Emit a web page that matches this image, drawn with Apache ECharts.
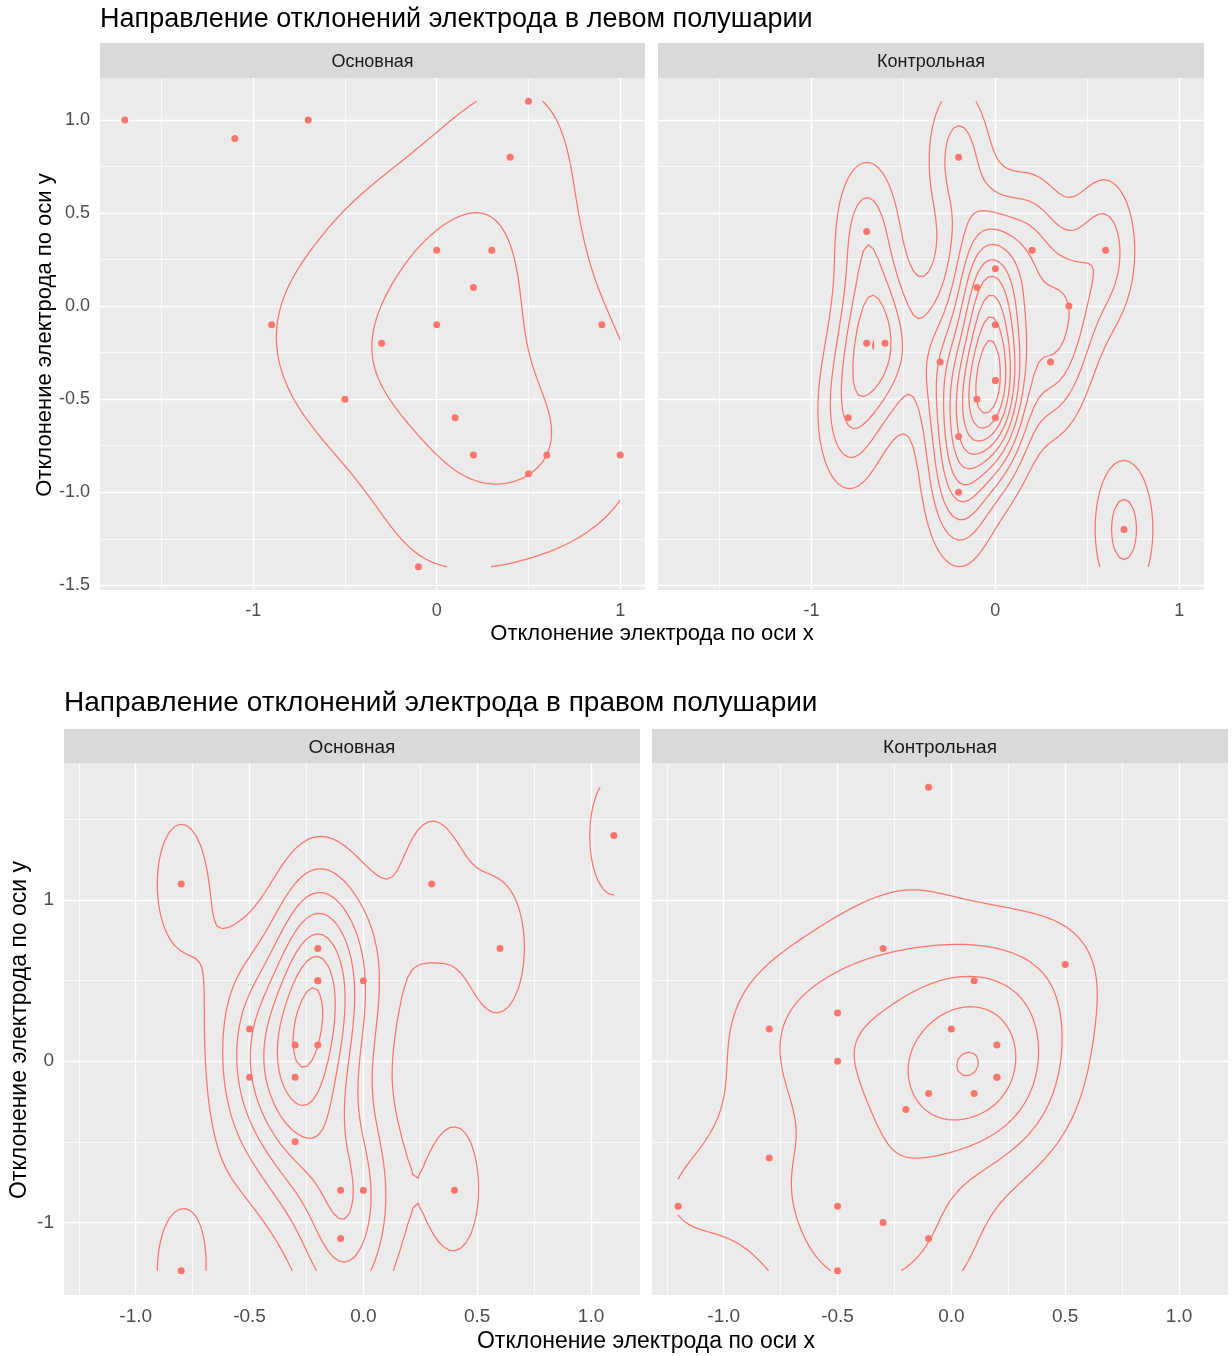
<!DOCTYPE html>
<html><head><meta charset="utf-8">
<script src="https://cdn.jsdelivr.net/npm/echarts@6/dist/echarts.min.js"></script>
<style>html,body{margin:0;padding:0;background:#fff}#c{width:1232px;height:1356px}</style>
</head><body><div id="c"></div>
<script>
// ---------------- DATA ----------------
const titleLeft = 'Направление отклонений электрода в левом полушарии';
const titleRight = 'Направление отклонений электрода в правом полушарии';
const facetNames = ['Основная', 'Контрольная'];
const xAxisTitle = 'Отклонение электрода по оси x';
const yAxisTitle = 'Отклонение электрода по оси y';

// Left hemisphere, group "Основная"
const lhMainX = [-1.7, -1.1, -0.7, 0.5, 0.4, 0.0, 0.3, 0.2, -0.9, 0.0, 0.9, -0.3, -0.5, 0.1, 0.2, 0.6, 1.0, 0.5, -0.1];
const lhMainY = [1.0, 0.9, 1.0, 1.1, 0.8, 0.3, 0.3, 0.1, -0.1, -0.1, -0.1, -0.2, -0.5, -0.6, -0.8, -0.8, -0.8, -0.9, -1.4];
// Left hemisphere, group "Контрольная" (point (0,-0.4) occurs twice)
const lhCtrlX = [-0.2, -0.7, 0.2, 0.6, 0.0, -0.1, 0.4, 0.0, -0.7, -0.6, -0.3, 0.3, 0.0, 0.0, -0.1, -0.8, 0.0, -0.2, -0.2, 0.7];
const lhCtrlY = [0.8, 0.4, 0.3, 0.3, 0.2, 0.1, 0.0, -0.1, -0.2, -0.2, -0.3, -0.3, -0.4, -0.4, -0.5, -0.6, -0.6, -0.7, -1.0, -1.2];
// Right hemisphere, group "Основная" (point (-0.2,0.5) occurs twice)
const rhMainX = [-0.8, 0.3, 1.1, 0.6, -0.2, -0.2, -0.2, 0.0, -0.5, -0.3, -0.2, -0.5, -0.3, -0.3, -0.1, 0.0, 0.4, -0.1, -0.8];
const rhMainY = [1.1, 1.1, 1.4, 0.7, 0.7, 0.5, 0.5, 0.5, 0.2, 0.1, 0.1, -0.1, -0.1, -0.5, -0.8, -0.8, -0.8, -1.1, -1.3];
// Right hemisphere, group "Контрольная" (point (0.2,-0.1) occurs twice)
const rhCtrlX = [-0.1, -0.3, 0.5, 0.1, -0.8, -0.5, -0.5, 0.0, 0.2, 0.2, 0.2, -0.1, 0.1, -0.2, -0.8, -1.2, -0.5, -0.3, -0.1, -0.5];
const rhCtrlY = [1.7, 0.7, 0.6, 0.5, 0.2, 0.3, 0.0, 0.2, 0.1, -0.1, -0.1, -0.2, -0.2, -0.3, -0.6, -0.9, -0.9, -1.0, -1.1, -1.3];

// Tick values / labels
const topXTicks = [-1, 0, 1];
const topXTickLabels = ['-1', '0', '1'];
const topXMinor = [-1.5, -0.5, 0.5];
const topYTicks = [-1.5, -1.0, -0.5, 0.0, 0.5, 1.0];
const topYTickLabels = ['-1.5', '-1.0', '-0.5', '0.0', '0.5', '1.0'];
const topYMinor = [-1.25, -0.75, -0.25, 0.25, 0.75];
const botXTicks = [-1.0, -0.5, 0.0, 0.5, 1.0];
const botXTickLabels = ['-1.0', '-0.5', '0.0', '0.5', '1.0'];
const botXMinor = [-1.25, -0.75, -0.25, 0.25, 0.75];
const botYTicks = [-1, 0, 1];
const botYTickLabels = ['-1', '0', '1'];
const botYMinor = [-0.5, 0.5, 1.5];

// ---------------- STYLE ----------------
const FONT = '"Liberation Sans", Arial, sans-serif';
const COL = '#F8766D';
const PANEL_BG = '#EBEBEB';
const STRIP_BG = '#D9D9D9';

// ---------------- STATS (MASS::kde2d + pretty, as ggplot2 geom_density_2d) ----------------
function quantile7(s, p) { const n = s.length, h = (n - 1) * p, lo = Math.floor(h), hi = Math.min(lo + 1, n - 1); return s[lo] + (h - lo) * (s[hi] - s[lo]); }
function bwNrd(x) {
  const s = [...x].sort((a, b) => a - b);
  const h = (quantile7(s, 0.75) - quantile7(s, 0.25)) / 1.34;
  const n = x.length, m = x.reduce((a, b) => a + b, 0) / n;
  const v = x.reduce((a, b) => a + (b - m) * (b - m), 0) / (n - 1);
  return 4 * 1.06 * Math.min(Math.sqrt(v), h) * Math.pow(n, -0.2);
}
function dnorm(u) { return Math.exp(-u * u / 2) / Math.sqrt(2 * Math.PI); }
function kde2d(x, y, lims, n) {
  const hx = bwNrd(x) / 4, hy = bwNrd(y) / 4;
  const gx = [], gy = [];
  for (let i = 0; i < n; i++) { gx.push(lims[0] + (lims[1] - lims[0]) * i / (n - 1)); gy.push(lims[2] + (lims[3] - lims[2]) * i / (n - 1)); }
  const nx = x.length;
  const ax = gx.map(g => x.map(v => dnorm((g - v) / hx)));
  const ay = gy.map(g => y.map(v => dnorm((g - v) / hy)));
  const z = [];
  for (let i = 0; i < n; i++) {
    const row = [];
    for (let j = 0; j < n; j++) {
      let s = 0; for (let k = 0; k < nx; k++) s += ax[i][k] * ay[j][k];
      row.push(s / (nx * hx * hy));
    }
    z.push(row);
  }
  return { gx, gy, z };
}
function rPretty(lo, up, ndiv) {
  const h = 1.5, h5 = 0.5 + 1.5 * h;
  const cell = (up - lo) / ndiv;
  const base = Math.pow(10, Math.floor(Math.log10(cell)));
  let unit = base, ns_;
  if ((ns_ = 2 * base) - cell < h * (cell - unit)) { unit = ns_;
    if ((ns_ = 5 * base) - cell < h5 * (cell - unit)) { unit = ns_;
      if ((ns_ = 10 * base) - cell < h * (cell - unit)) unit = ns_; } }
  const eps = 1e-10;
  let ns = Math.floor(lo / unit + eps), nu = Math.ceil(up / unit - eps);
  while (ns * unit > lo + eps * unit) ns--;
  while (nu * unit < up - eps * unit) nu++;
  const out = [];
  for (let i = ns; i <= nu; i++) out.push(i * unit);
  return out;
}
function isolines(d, level) {
  const { gx, gy, z } = d, nX = gx.length, nY = gy.length;
  const pts = new Map(), segs = [];
  const hE = (i, j) => { const id = (j * nX + i) * 2; if (!pts.has(id)) { const a = z[i][j], b = z[i + 1][j], t = (level - a) / (b - a); pts.set(id, [gx[i] + t * (gx[i + 1] - gx[i]), gy[j]]); } return id; };
  const vE = (i, j) => { const id = (j * nX + i) * 2 + 1; if (!pts.has(id)) { const a = z[i][j], b = z[i][j + 1], t = (level - a) / (b - a); pts.set(id, [gx[i], gy[j] + t * (gy[j + 1] - gy[j])]); } return id; };
  for (let i = 0; i < nX - 1; i++) for (let j = 0; j < nY - 1; j++) {
    const v0 = z[i][j], v1 = z[i + 1][j], v2 = z[i + 1][j + 1], v3 = z[i][j + 1];
    const code = (v0 >= level ? 1 : 0) | (v1 >= level ? 2 : 0) | (v2 >= level ? 4 : 0) | (v3 >= level ? 8 : 0);
    if (code === 0 || code === 15) continue;
    const B = () => hE(i, j), R = () => vE(i + 1, j), T = () => hE(i, j + 1), L = () => vE(i, j);
    const c = (v0 + v1 + v2 + v3) / 4 >= level;
    switch (code) {
      case 1: case 14: segs.push([L(), B()]); break;
      case 2: case 13: segs.push([B(), R()]); break;
      case 3: case 12: segs.push([L(), R()]); break;
      case 4: case 11: segs.push([R(), T()]); break;
      case 6: case 9: segs.push([B(), T()]); break;
      case 7: case 8: segs.push([L(), T()]); break;
      case 5: if (c) { segs.push([L(), T()]); segs.push([B(), R()]); } else { segs.push([L(), B()]); segs.push([R(), T()]); } break;
      case 10: if (c) { segs.push([L(), B()]); segs.push([R(), T()]); } else { segs.push([B(), R()]); segs.push([L(), T()]); } break;
    }
  }
  const adj = new Map();
  segs.forEach((s, k) => s.forEach(e => { if (!adj.has(e)) adj.set(e, []); adj.get(e).push(k); }));
  const used = new Uint8Array(segs.length), lines = [];
  const walk = (start) => { const out = []; let cur = start; for (;;) { const nx = (adj.get(cur) || []).find(m => !used[m]); if (nx === undefined) break; used[nx] = 1; const s = segs[nx]; cur = s[0] === cur ? s[1] : s[0]; out.push(cur); } return out; };
  for (let k = 0; k < segs.length; k++) {
    if (used[k]) continue; used[k] = 1;
    const fwd = walk(segs[k][1]), back = walk(segs[k][0]);
    const path = back.reverse().concat([segs[k][0], segs[k][1]], fwd);
    lines.push(path.map(e => pts.get(e)));
  }
  return lines;
}

// ---------------- LAYOUT ----------------
const plotDefs = [
  { title: titleLeft, data: [[lhMainX, lhMainY], [lhCtrlX, lhCtrlY]], fs: 1.0,
    grids: [{ left: 100, top: 78, width: 545, height: 512 }, { left: 658, top: 78, width: 546, height: 512 }],
    stripTop: 43, titlePos: [100, 20], xTitlePos: [652, 634], yTitlePos: [45, 335],
    xTicks: topXTicks, xLabels: topXTickLabels, xMinor: topXMinor, yTicks: topYTicks, yLabels: topYTickLabels, yMinor: topYMinor },
  { title: titleRight, data: [[rhMainX, rhMainY], [rhCtrlX, rhCtrlY]], fs: 1.05,
    grids: [{ left: 64, top: 763, width: 576, height: 532 }, { left: 652, top: 763, width: 576, height: 532 }],
    stripTop: 729, titlePos: [64, 703], xTitlePos: [646, 1342], yTitlePos: [20, 1030],
    xTicks: botXTicks, xLabels: botXTickLabels, xMinor: botXMinor, yTicks: botYTicks, yLabels: botYTickLabels, yMinor: botYMinor }
];

const grids = [], xAxes = [], yAxes = [], series = [], graphics = [];
const fmt = (ticks, labels) => v => { const k = ticks.findIndex(t => Math.abs(t - v) < 1e-9); return k >= 0 ? labels[k] : ''; };

plotDefs.forEach(pd => {
  const tickFs = Math.round(18 * pd.fs);
  const allX = pd.data[0][0].concat(pd.data[1][0]), allY = pd.data[0][1].concat(pd.data[1][1]);
  const xr = [Math.min(...allX), Math.max(...allX)], yr = [Math.min(...allY), Math.max(...allY)];
  const xExt = [xr[0] - 0.05 * (xr[1] - xr[0]), xr[1] + 0.05 * (xr[1] - xr[0])];
  const yExt = [yr[0] - 0.05 * (yr[1] - yr[0]), yr[1] + 0.05 * (yr[1] - yr[0])];
  const dens = pd.data.map(([x, y]) => kde2d(x, y, [xr[0], xr[1], yr[0], yr[1]], 100));
  let zmin = Infinity, zmax = -Infinity;
  dens.forEach(d => d.z.forEach(r => r.forEach(v => { if (v < zmin) zmin = v; if (v > zmax) zmax = v; })));
  const breaks = rPretty(zmin, zmax, 10);

  pd.data.forEach(([xs, ys], p) => {
    const gi = grids.length, g = pd.grids[p];
    grids.push(Object.assign({ show: true, backgroundColor: PANEL_BG, borderWidth: 0, containLabel: false }, g));
    xAxes.push({
      type: 'value', gridIndex: gi, min: xExt[0], max: xExt[1], scale: true,
      axisLine: { show: false }, splitLine: { show: false },
      axisTick: { show: true, customValues: pd.xTicks, length: 5, lineStyle: { color: '#333333', width: 1.1 } },
      axisLabel: { show: true, customValues: pd.xTicks, formatter: fmt(pd.xTicks, pd.xLabels), color: '#4D4D4D', fontSize: tickFs, fontFamily: FONT, margin: 12, hideOverlap: false }
    });
    const showY = p === 0;
    yAxes.push({
      type: 'value', gridIndex: gi, min: yExt[0], max: yExt[1], scale: true,
      axisLine: { show: false }, splitLine: { show: false },
      axisTick: { show: showY, customValues: pd.yTicks, length: 5, lineStyle: { color: '#333333', width: 1.1 } },
      axisLabel: { show: showY, customValues: pd.yTicks, formatter: fmt(pd.yTicks, pd.yLabels), color: '#4D4D4D', fontSize: tickFs, fontFamily: FONT, margin: 10, hideOverlap: false }
    });
    // grid lines through the axis scales
    const gl = [];
    pd.xMinor.forEach(v => gl.push({ coords: [[v, yExt[0]], [v, yExt[1]]], lineStyle: { width: 0.7 } }));
    pd.yMinor.forEach(v => gl.push({ coords: [[xExt[0], v], [xExt[1], v]], lineStyle: { width: 0.7 } }));
    pd.xTicks.forEach(v => gl.push({ coords: [[v, yExt[0]], [v, yExt[1]]], lineStyle: { width: 1.4 } }));
    pd.yTicks.forEach(v => gl.push({ coords: [[xExt[0], v], [xExt[1], v]], lineStyle: { width: 1.4 } }));
    series.push({ type: 'lines', coordinateSystem: 'cartesian2d', xAxisIndex: gi, yAxisIndex: gi, silent: true, z: 1,
      lineStyle: { color: '#FFFFFF', opacity: 1, curveness: 0 }, data: gl });
    // density contours
    const cl = [];
    breaks.forEach(L => isolines(dens[p], L).forEach(path => { if (path.length > 1) cl.push({ coords: path }); }));
    series.push({ type: 'lines', coordinateSystem: 'cartesian2d', xAxisIndex: gi, yAxisIndex: gi, polyline: true, silent: true, z: 4,
      large: false, progressive: 0, lineStyle: { color: COL, width: 1.25, opacity: 1, curveness: 0 }, data: cl });
    // points
    series.push({ type: 'scatter', xAxisIndex: gi, yAxisIndex: gi, z: 3, symbol: 'circle', symbolSize: 7,
      itemStyle: { color: COL, opacity: 1 }, silent: true, data: xs.map((x, i) => [x, ys[i]]) });
    // facet strip
    graphics.push({ type: 'rect', shape: { x: g.left, y: pd.stripTop, width: g.width, height: g.top - pd.stripTop }, style: { fill: STRIP_BG }, silent: true });
    graphics.push({ type: 'text', x: g.left + g.width / 2, y: (pd.stripTop + g.top) / 2 + 2,
      style: { text: facetNames[p], fill: '#1A1A1A', font: tickFs + 'px ' + FONT, textAlign: 'center', textVerticalAlign: 'middle' }, silent: true });
  });
  graphics.push({ type: 'text', x: pd.titlePos[0], y: pd.titlePos[1],
    style: { text: pd.title, fill: '#000000', font: Math.round(27 * pd.fs) + 'px ' + FONT, textAlign: 'left', textVerticalAlign: 'middle' }, silent: true });
  graphics.push({ type: 'text', x: pd.xTitlePos[0], y: pd.xTitlePos[1],
    style: { text: xAxisTitle, fill: '#000000', font: Math.round(22 * pd.fs) + 'px ' + FONT, textAlign: 'center', textVerticalAlign: 'middle' }, silent: true });
  graphics.push({ type: 'text', x: pd.yTitlePos[0], y: pd.yTitlePos[1], rotation: Math.PI / 2,
    style: { text: yAxisTitle, fill: '#000000', font: Math.round(22 * pd.fs) + 'px ' + FONT, textAlign: 'center', textVerticalAlign: 'middle' }, silent: true });
});

const chart = echarts.init(document.getElementById('c'), null, { renderer: 'canvas' });
chart.setOption({
  animation: false,
  backgroundColor: '#FFFFFF',
  grid: grids, xAxis: xAxes, yAxis: yAxes, series: series,
  graphic: { elements: graphics }
});
</script></body></html>
